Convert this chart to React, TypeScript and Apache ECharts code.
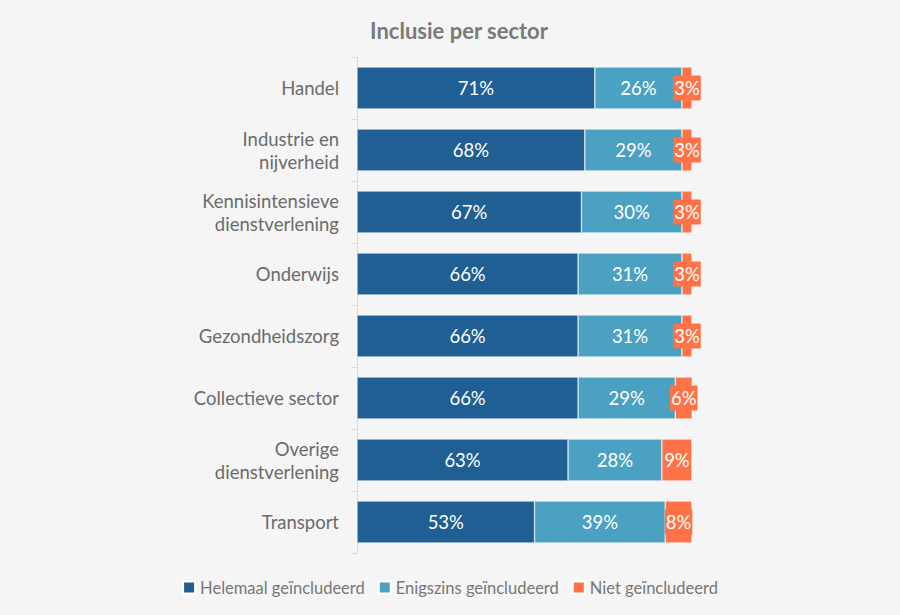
import React, { useEffect, useRef } from "react";
import * as echarts from "echarts";

const categories = [
  "Handel",
  "Industrie en\nnijverheid",
  "Kennisintensieve\ndienstverlening",
  "Onderwijs",
  "Gezondheidszorg",
  "Collectieve sector",
  "Overige\ndienstverlening",
  "Transport",
];
const helemaal = [71, 68, 67, 66, 66, 66, 63, 53];
const enigszins = [26, 29, 30, 31, 31, 29, 28, 39];
const niet = [3, 3, 3, 3, 3, 6, 9, 8];

const FONT = "Lato, 'Open Sans', sans-serif";

export default function App() {
  const ref = useRef<HTMLDivElement>(null);
  useEffect(() => {
    const chart = echarts.init(ref.current!, null, { renderer: "svg" });
    const mkLabel = (bg?: string) => ({
      show: true,
      position: "inside" as const,
      formatter: "{c}%",
      color: "#ffffff",
      fontFamily: FONT,
      fontSize: 18.5,
      backgroundColor: bg,
      padding: bg ? [3, 1, 3, 1] : 0,
    });
    chart.setOption({
      animation: false,
      backgroundColor: "#f5f5f5",
      title: {
        text: "Inclusie per sector",
        left: 454,
        textAlign: "center",
        top: 14,
        textStyle: { fontFamily: FONT, fontSize: 22, fontWeight: "bold", color: "#7a7a7a" },
      },
      legend: {
        bottom: 14,
        left: "center",
        itemWidth: 12,
        itemHeight: 12,
        itemGap: 13,
        icon: "rect",
        textStyle: { fontFamily: FONT, fontSize: 16.5, color: "#777777" },
        data: ["Helemaal geïncludeerd", "Enigszins geïncludeerd", "Niet geïncludeerd"],
      },
      grid: { left: 357, right: 208, top: 57, bottom: 62 },
      xAxis: {
        type: "value",
        min: 0,
        max: 100,
        show: false,
      },
      yAxis: {
        type: "category",
        inverse: true,
        data: categories,
        axisLine: { show: true, lineStyle: { color: "#d9d9d9" } },
        axisTick: { show: true, length: 6, lineStyle: { color: "#d9d9d9" } },
        axisLabel: {
          fontFamily: FONT,
          fontSize: 18.5,
          color: "#6b6b6b",
          margin: 18,
          lineHeight: 23,
          align: "right",
        },
      },
      series: [
        {
          name: "Helemaal geïncludeerd",
          type: "bar",
          stack: "a",
          barWidth: 42,
          data: helemaal,
          itemStyle: { color: "#1f5f93", borderColor: "#ffffff", borderWidth: 0.5 },
          label: mkLabel(),
        },
        {
          name: "Enigszins geïncludeerd",
          type: "bar",
          stack: "a",
          barWidth: 42,
          data: enigszins,
          itemStyle: { color: "#4ba1c2", borderColor: "#ffffff", borderWidth: 0.5 },
          label: mkLabel(),
        },
        {
          name: "Niet geïncludeerd",
          type: "bar",
          stack: "a",
          barWidth: 42,
          data: niet,
          itemStyle: { color: "#ff7247", borderColor: "#ffffff", borderWidth: 0.5 },
          label: mkLabel("#ff7247"),
        },
      ],
    });
    return () => chart.dispose();
  }, []);
  return (
    <div
      ref={ref}
      style={{ position: "fixed", left: 0, top: 0, width: 900, height: 615 }}
    />
  );
}
